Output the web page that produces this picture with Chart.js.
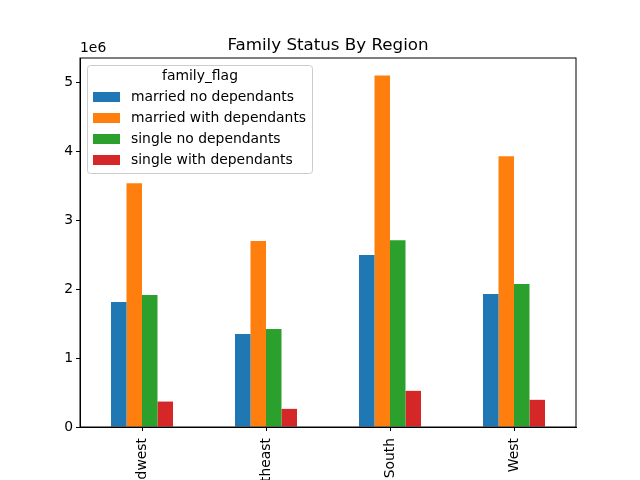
<!DOCTYPE html>
<html>
<head>
<meta charset="utf-8">
<script src="https://cdn.jsdelivr.net/npm/chart.js@4"></script>
<style>
  html, body { margin: 0; padding: 0; background: #fff; }
  #wrap { width: 640px; height: 480px; }
</style>
</head>
<body>
<div id="wrap"><canvas id="chart" width="640" height="480"></canvas></div>
<script>
// ── Data ────────────────────────────────────────────────
const regions = ['Midwest', 'Northeast', 'South', 'West'];
const seriesNames = ['married no dependants', 'married with dependants', 'single no dependants', 'single with dependants'];
const marriedNoDep   = [1812000, 1349000, 2492000, 1928000];
const marriedWithDep = [3534000, 2695000, 5097000, 3925000];
const singleNoDep    = [1913000, 1421000, 2709000, 2072000];
const singleWithDep  = [369000, 263000, 524000, 394000];
const yTicks = [0, 1000000, 2000000, 3000000, 4000000, 5000000];
const colors = ['#1f77b4', '#ff7f0e', '#2ca02c', '#d62728'];

const FONT = 'DejaVu Sans';

// ── Frame, x tick marks, title, offset text, legend ─────
const decor = {
  id: 'decor',
  afterDraw(chart) {
    const { ctx, chartArea: a } = chart;
    const xs = chart.scales.x;
    ctx.save();
    ctx.strokeStyle = '#000';
    ctx.lineWidth = 1;
    ctx.strokeRect(a.left, a.top, a.right - a.left, a.bottom - a.top);

    // category tick marks at bar-group centres
    regions.forEach((r, i) => {
      const x = Math.round(xs.getPixelForValue(i)) + 0.5;
      ctx.beginPath();
      ctx.moveTo(x, a.bottom);
      ctx.lineTo(x, a.bottom + 4);
      ctx.stroke();
    });

    ctx.fillStyle = '#000';
    ctx.font = '16.7px "' + FONT + '"';
    ctx.textAlign = 'center';
    ctx.textBaseline = 'alphabetic';
    ctx.fillText('Family Status By Region', (a.left + a.right) / 2, 50);

    ctx.font = '13.9px "' + FONT + '"';
    ctx.textAlign = 'left';
    ctx.fillText('1e6', a.left, 52);

    // legend box
    const bx = 87.5, by = 65.5, bw = 225, bh = 108;
    ctx.fillStyle = 'rgba(255,255,255,0.8)';
    ctx.strokeStyle = '#cccccc';
    ctx.beginPath();
    ctx.roundRect(bx, by, bw, bh, 3);
    ctx.fill();
    ctx.stroke();

    ctx.fillStyle = '#000';
    ctx.textAlign = 'center';
    ctx.textBaseline = 'middle';
    ctx.fillText('family_flag', bx + bw / 2, 76);
    ctx.textAlign = 'left';
    chart.data.datasets.forEach((ds, i) => {
      const y = 97 + i * 21;
      ctx.fillStyle = ds.backgroundColor;
      ctx.fillRect(93, y - 5, 27, 10);
      ctx.fillStyle = '#000';
      ctx.fillText(ds.label, 131, y);
    });
    ctx.restore();
  }
};

const seriesData = [marriedNoDep, marriedWithDep, singleNoDep, singleWithDep];

new Chart(document.getElementById('chart'), {
  type: 'bar',
  data: {
    labels: regions,
    datasets: seriesNames.map((name, i) => ({
      label: name,
      data: seriesData[i],
      backgroundColor: colors[i],
      borderWidth: 0,
      categoryPercentage: 0.5,
      barPercentage: 1.0,
    }))
  },
  plugins: [decor],
  options: {
    responsive: false,
    animation: false,
    devicePixelRatio: 1,
    layout: { padding: { top: 58, right: 64, left: 0, bottom: 0 } },
    plugins: {
      legend: { display: false },
      title: { display: false },
      tooltip: { enabled: false }
    },
    scales: {
      x: {
        offset: true,
        afterFit: s => { s.height = 53; },
        grid: { display: false, drawOnChartArea: false, drawTicks: false },
        border: { display: true, color: '#000' },
        ticks: {
          color: '#000', padding: 11, autoSkip: false,
          minRotation: 90, maxRotation: 90,
          font: { family: FONT, size: 13.9 }
        }
      },
      y: {
        min: 0, max: 5350000,
        afterFit: s => { s.width = 80; },
        afterBuildTicks: s => { s.ticks = yTicks.map(v => ({ value: v })); },
        grid: { display: true, drawOnChartArea: false, drawTicks: true, tickLength: 4, color: '#000' },
        border: { display: true, color: '#000' },
        ticks: {
          color: '#000', padding: 3,
          font: { family: FONT, size: 13.9 },
          callback: v => String(v / 1000000)
        }
      }
    }
  }
});
</script>
</body>
</html>
